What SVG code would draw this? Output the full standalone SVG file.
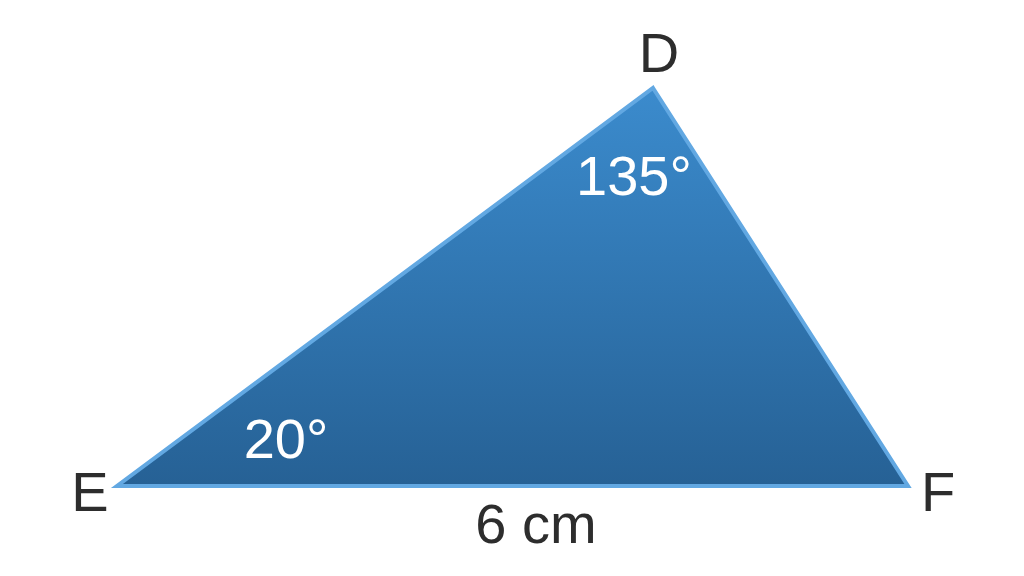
<svg xmlns="http://www.w3.org/2000/svg" width="1024" height="576" viewBox="0 0 1024 576">
  <defs>
    <linearGradient id="fillGrad" x1="0" y1="0" x2="0" y2="1">
      <stop offset="0" stop-color="#3b8bcd"/>
      <stop offset="1" stop-color="#266195"/>
    </linearGradient>
    <style>
      .lbl { font-family: "Liberation Sans", Arial, sans-serif; font-size: 56px; fill: #2d2d2d; }
      .ang { font-family: "Liberation Sans", Arial, sans-serif; font-size: 56px; fill: #ffffff; }
    </style>
  </defs>
  <rect width="1024" height="576" fill="#ffffff"/>
  <g id="triangle">
    <polygon points="653,88 908,486 117,486" fill="url(#fillGrad)" stroke="#62a8e2" stroke-width="4" stroke-linejoin="miter"/>
  </g>
  <g id="labels">
    <text class="lbl" x="659" y="72" text-anchor="middle">D</text>
    <text class="lbl" x="90" y="511" text-anchor="middle">E</text>
    <text class="lbl" x="938" y="511" text-anchor="middle">F</text>
    <text class="lbl" x="536" y="543" text-anchor="middle">6 cm</text>
    <text class="ang" x="634" y="195" text-anchor="middle">135°</text>
    <text class="ang" x="286" y="458" text-anchor="middle">20°</text>
  </g>
</svg>
